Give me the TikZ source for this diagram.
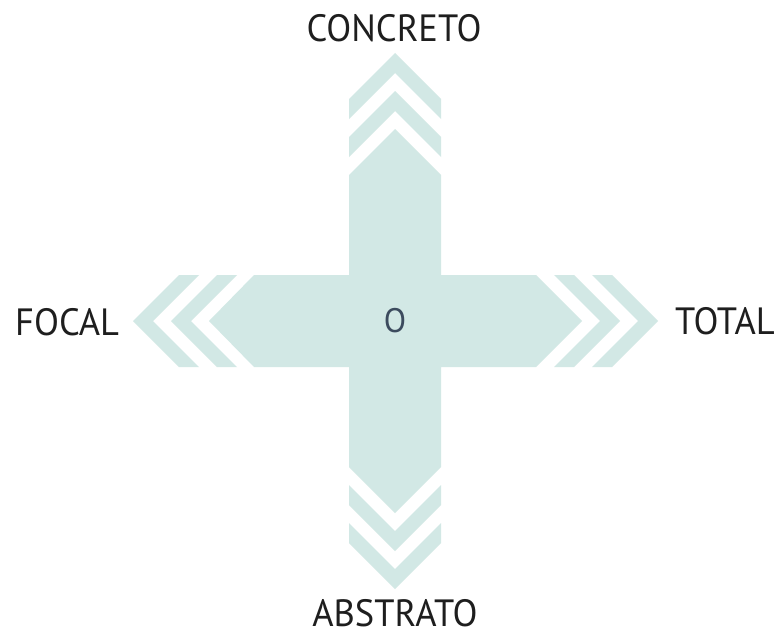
\documentclass[tikz,border=0pt]{standalone}
\usepackage{fontspec}
\newfontfamily\labelfont[FakeStretch=0.96]{PT Sans}
\definecolor{teal}{HTML}{D2E8E5}
\definecolor{ink}{HTML}{1E1E1E}
\definecolor{slate}{HTML}{3C4B5E}
\begin{document}
\begin{tikzpicture}[x=1pt,y=-1pt,
  band/.style={fill=teal,draw=none},
  axislabel/.style={font=\labelfont\fontsize{38}{38}\selectfont,text=ink,inner sep=0pt,anchor=base},
  centerlabel/.style={font=\labelfont\fontsize{34}{34}\selectfont,text=slate,inner sep=0pt,anchor=base}]
\useasboundingbox[fill=white] (0,0) rectangle (776,634);
% cross body
\fill[band] (395,129) -- (441,175) -- (441,275) -- (536,275) -- (582,321) -- (536,367)
  -- (441,367) -- (441,467) -- (395,513) -- (349,467) -- (349,367) -- (254,367)
  -- (209,321) -- (254,275) -- (349,275) -- (349,175) -- cycle;
% top chevrons
\foreach \a in {53,91}{
  \fill[band] (349,\a+46) -- (395,\a) -- (441,\a+46) -- (441,\a+66) -- (395,\a+20) -- (349,\a+66) -- cycle;}
% bottom chevrons
\foreach \a in {551,589}{
  \fill[band] (349,\a-46) -- (395,\a) -- (441,\a-46) -- (441,\a-66) -- (395,\a-20) -- (349,\a-66) -- cycle;}
% left chevrons
\foreach \a in {133,171}{
  \fill[band] (\a+46,275) -- (\a,321) -- (\a+46,367) -- (\a+66,367) -- (\a+20,321) -- (\a+66,275) -- cycle;}
% right chevrons
\foreach \a in {620,658}{
  \fill[band] (\a-46,275) -- (\a,321) -- (\a-46,367) -- (\a-66,367) -- (\a-20,321) -- (\a-66,275) -- cycle;}
% labels
\node[axislabel] (concreto) at (394,42) {CONCRETO};
\node[axislabel] (abstrato) at (395,626) {ABSTRATO};
\node[axislabel,anchor=base west] (focal) at (15,335) {FOCAL};
\node[axislabel,anchor=base east] (total) at (775,334) {TOTAL};
\node[centerlabel] (origin) at (395,332) {O};
\end{tikzpicture}
\end{document}
